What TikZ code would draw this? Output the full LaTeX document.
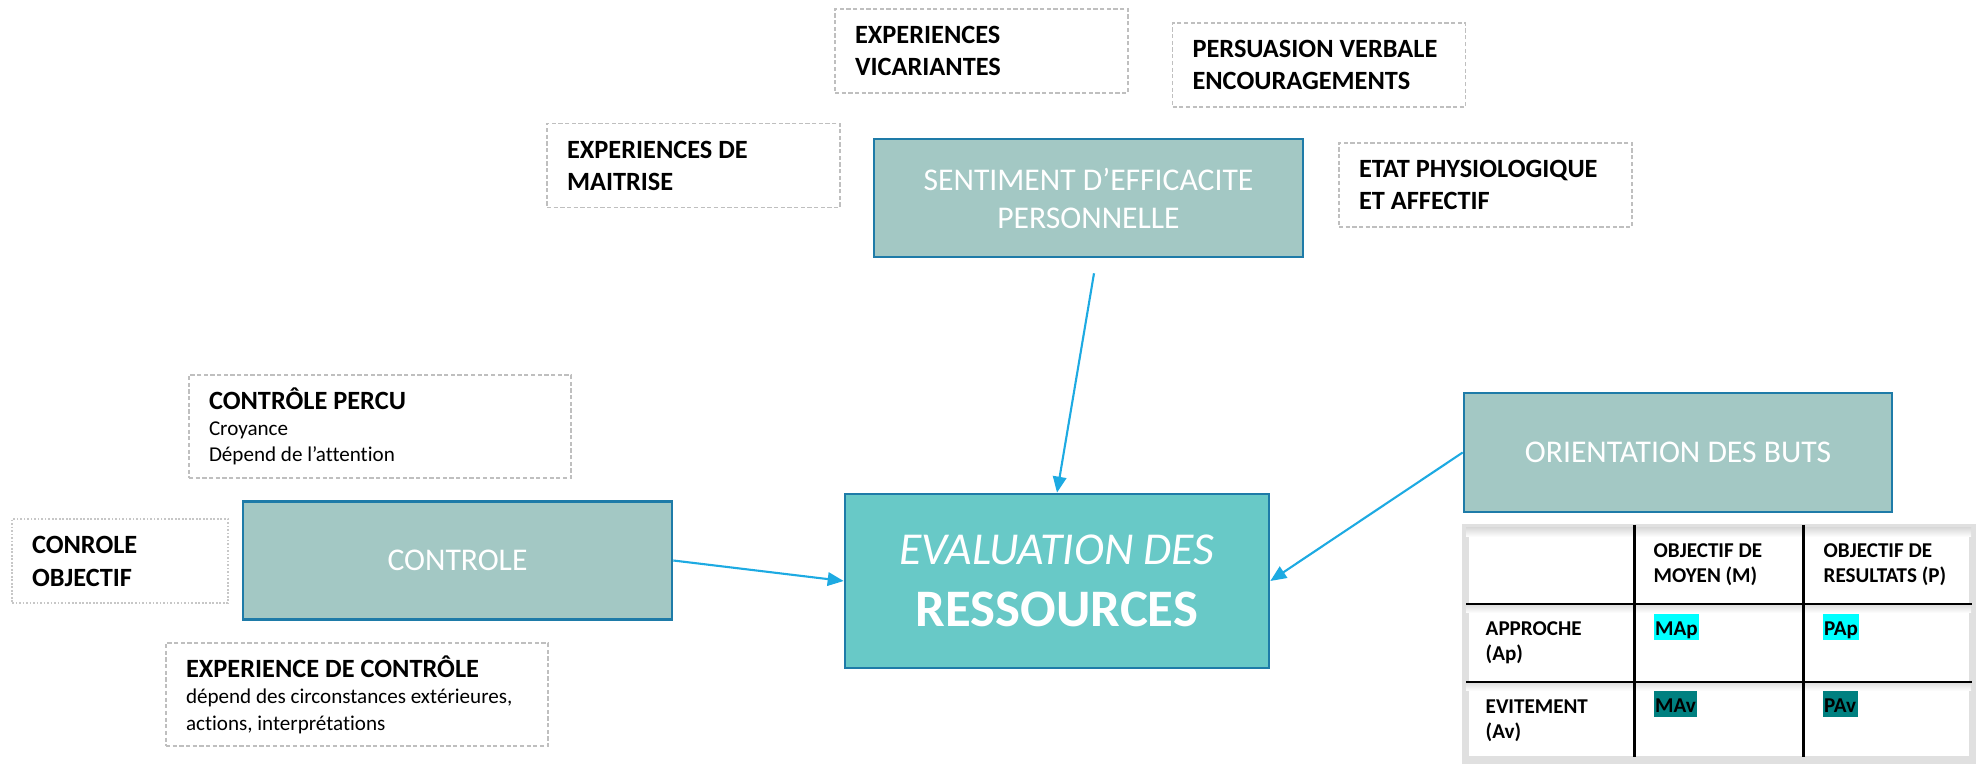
\documentclass[tikz,border=0pt]{standalone}
\usepackage{fontspec}
\setmainfont{Carlito}[Ligatures=NoCommon]
\usepackage{xcolor}
\definecolor{tealgrey}{HTML}{A3C8C4}
\definecolor{tealline}{HTML}{1E7BA8}
\definecolor{tealbright}{HTML}{68C9C7}
\definecolor{arrowblue}{HTML}{1DAAE2}
\definecolor{dashgrey}{HTML}{BFBFBF}
\definecolor{hlcyan}{HTML}{00FFFF}
\definecolor{hlteal}{HTML}{008080}
\usetikzlibrary{arrows.meta}

\begin{document}
\begin{tikzpicture}[
    dashbox/.style={draw=dashgrey, line width=0.45pt, dash pattern=on 1.2pt off 0.7pt, align=flush left,
      inner xsep=0.2cm, minimum width=2.93cm, minimum height=0.84cm, text width=2.53cm,
      font=\bfseries\fontsize{7.5}{9.1}\selectfont},
    notebox/.style={dashbox, minimum width=3.82cm, minimum height=1.03cm, text width=3.42cm,
      font=\fontsize{6}{7.5}\selectfont},
    objbox/.style={dashbox, draw=black!22, dash pattern=on 0.5pt off 0.5pt, line width=0.35pt,
      minimum width=2.16cm, text width=1.76cm, font=\bfseries\fontsize{7.5}{9.4}\selectfont},
    tealbox/.style={draw=tealline, line width=0.75pt, fill=tealgrey, text=white, align=center,
      minimum width=4.29cm, minimum height=1.18cm, font=\fontsize{9}{10.8}\selectfont},
    fleche/.style={draw=arrowblue, line width=0.6pt, -{Triangle[length=1.6mm,width=1.35mm]}},
    cell/.style={anchor=north west, inner sep=0pt, align=flush left, font=\bfseries\fontsize{6}{7.1}\selectfont},
    hl/.style={anchor=north west, inner xsep=0.4pt, inner ysep=0pt, text height=0.22cm, text depth=0.04cm,
      font=\bfseries\fontsize{6}{7.1}\selectfont}
  ]
  \useasboundingbox (0,0) rectangle (19.8,7.65);

  \node[dashbox] (vicar) at (9.815,7.14) {EXPERIENCES\\VICARIANTES};
  \node[dashbox] (persu) at (13.19,7.00) {PERSUASION VERBALE\\ENCOURAGEMENTS};
  \node[dashbox] (maitr) at (6.935,5.995) {EXPERIENCES DE\\MAITRISE};
  \node[dashbox] (etat) at (14.855,5.80) {ETAT PHYSIOLOGIQUE\\ET AFFECTIF};
  \node[tealbox] (sent) at (10.885,5.67) {SENTIMENT D’EFFICACITE\\PERSONNELLE};

  \node[notebox] (percu) at (3.80,3.385) {{\bfseries\fontsize{7.5}{9}\selectfont CONTRÔLE PERCU}\\Croyance\\Dépend de l’attention};
  \node[objbox] (objectif) at (1.20,2.04) {CONROLE\\OBJECTIF};
  \node[tealbox] (controle) at (4.575,2.045) {CONTROLE};
  \node[notebox] (expctrl) at (3.57,0.705) {{\bfseries\fontsize{7.5}{9}\selectfont EXPERIENCE DE CONTRÔLE}\\dépend des circonstances extérieures,\\actions, interprétations};

  \node[tealbox, fill=tealbright, minimum width=4.24cm, minimum height=1.74cm, font=\fontsize{13}{17.6}\selectfont]
    (eval) at (10.57,1.84) {{\itshape EVALUATION DES}\\{\bfseries\fontsize{15}{17.6}\selectfont RESSOURCES}};
  \node[tealbox, minimum width=4.28cm, minimum height=1.19cm] (orient) at (16.78,3.125) {ORIENTATION DES BUTS};

  \coordinate (s0) at ([xshift=0.055cm,yshift=-0.15cm]sent.south);
  \draw[fleche] (s0) -- (eval.north);
  \draw[fleche] (controle.east) -- (eval.west);
  \draw[fleche] (orient.west) -- (eval.east);

  \draw[black!12, line width=2pt] (14.65,0.05) rectangle (19.72,2.37);
  \foreach \y in {2.37,1.61,0.83} {
    \shade[top color=black!14, bottom color=white] (14.66,\y-0.09) rectangle (19.71,\y);
  }
  \foreach \y in {1.61,0.83} {
    \draw[line width=0.85pt] (14.66,\y) -- (19.72,\y);
  }
  \foreach \x in {16.34,18.03} {
    \draw[line width=0.85pt] (\x,2.40) -- (\x,0.08);
  }

  \node[cell] (moyen) at (16.53,2.22) {OBJECTIF DE\\MOYEN (M)};
  \node[cell] (result) at (18.23,2.22) {OBJECTIF DE\\RESULTATS (P)};
  \node[cell] (appro) at (14.85,1.44) {APPROCHE\\(Ap)};
  \node[cell] (evit) at (14.85,0.66) {EVITEMENT\\(Av)};
  \node[hl, fill=hlcyan] (map) at (16.53,1.52) {MAp};
  \node[hl, fill=hlcyan] (pap) at (18.22,1.52) {PAp};
  \node[hl, fill=hlteal] (mav) at (16.53,0.75) {MAv};
  \node[hl, fill=hlteal] (pav) at (18.22,0.75) {PAv};
\end{tikzpicture}
\end{document}
